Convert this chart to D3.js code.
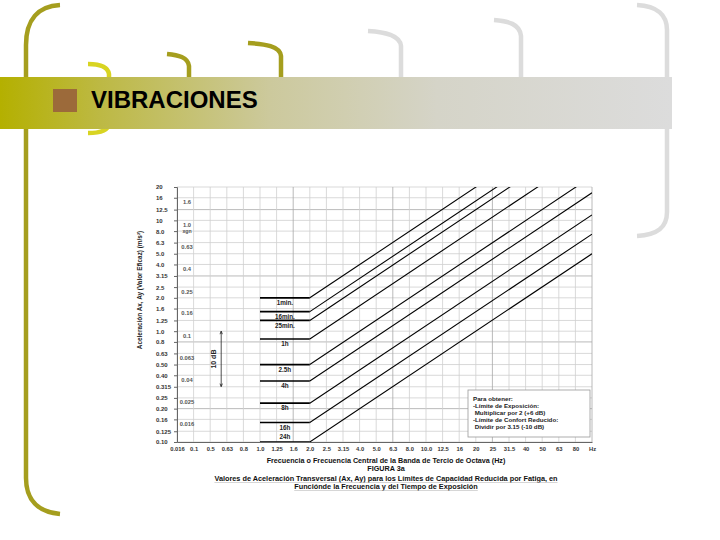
<!DOCTYPE html>
<html>
<head>
<meta charset="utf-8">
<script src="https://cdn.jsdelivr.net/npm/d3@7"></script>
<style>
  body { margin: 0; background: #fff; }
  text { font-family: "Liberation Sans", Arial, sans-serif; }
</style>
</head>
<body>
<div class="slide"></div>
<script>
// third-octave band labels along the bottom (last slot is the unit)
const xLabels = ["0.016","0.1","0.5","0.63","0.8","1.0","1.25","1.6","2.0","2.5","3.15","4.0","5.0","6.3",
                 "8.0","10.0","12.5","16","20","25","31.5","40","50","63","80","Hz"];
// acceleration ticks, m/s2
const yTickLabels = ["20","16","12.5","10","8.0","6.3","5.0","4.0","3.15","2.5","2.0","1.6","1.25","1.0",
                     "0.8","0.63","0.50","0.40","0.315","0.25","0.20","0.16","0.125","0.10"];
// same scale in g units
const gLabels = ["1.6","1.0","0.63","0.4","0.25","0.16","0.1","0.063","0.04","0.025","0.016"];
const gToMs2 = 9.81;

// exposure times and their curves: flat 1-2 Hz, then rising to the right edge
const exposure   = ["1min.","16min.","25min.","1h","2.5h","4h","8h","16h","24h"];
const flatLevel  = [2.0, 1.5, 1.25, 0.85, 0.5, 0.355, 0.224, 0.15, 0.1];
const edgeLevel  = [100, 75, 62.5, 42.5, 25, 17.75, 11.2, 7.5, 5.0];
const flatFrom = "1.0", knee = "2.0", edge = "Hz";

const legendLines = ["Para obtener:", "-Límite de Exposición:", " Multiplicar por 2 (+6 dB)",
                     "-Límite de Confort Reducido:", " Dividir por 3.15 (-10 dB)"];

const svg = d3.select(".slide").append("svg")
    .attr("width", 720).attr("height", 540);

// ---- slide decoration ----
const defs = svg.append("defs");
const grad = defs.append("linearGradient").attr("id", "bar");
[[0, "#b4b000"], [0.15, "#bdb944"], [0.4, "#ccc99c"], [0.65, "#d5d4c8"], [1, "#dcdcdc"]]
    .forEach(([o, c]) => grad.append("stop").attr("offset", o).attr("stop-color", c));

const brackets = [
    ["M60,5 C38,6 26,20 26,45 L26,478 C26,500 38,512 60,514", "#a59e1e"],
    ["M88,64 C100,64 108,67 109,74 L109,124 C108,131 100,133 88,133", "#d8d422"],
    ["M167,54 C178,55 188,57 189,66 L189,80", "#a59e1e"],
    ["M248,43 C265,44 280,46 281,56 L281,80", "#a59e1e"],
    ["M368,31 C385,32 400,35 401,46 L401,80", "#dcdcdc"],
    ["M494,20 C508,21 520,24 521,36 L521,80", "#dcdcdc"],
    ["M637,5 C657,6 667,15 667,30 L667,212 C667,228 657,235 637,236", "#dcdcdc"]
];
svg.append("g").selectAll("path").data(brackets).join("path")
    .attr("d", d => d[0]).attr("fill", "none")
    .attr("stroke", d => d[1]).attr("stroke-width", 4.5);

svg.append("rect").attr("x", 0).attr("y", 77).attr("width", 672).attr("height", 52)
    .attr("fill", "url(#bar)");
svg.append("rect").attr("x", 53).attr("y", 89).attr("width", 24).attr("height", 23)
    .attr("fill", "#9c6a3a");
svg.append("text").attr("x", 91).attr("y", 108)
    .attr("font-size", 24).attr("font-weight", "bold").attr("fill", "#000")
    .text("VIBRACIONES");

// ---- chart ----
const plotL = 177, plotR = 592, plotT = 187, plotB = 442;
const x = d3.scalePoint().domain(xLabels).range([plotL, plotR]);
const y = d3.scaleLog().domain([0.1, 20]).range([plotB, plotT]);
const yVals = yTickLabels.map(Number);

const chart = svg.append("g");

// grid
chart.append("g").selectAll("line").data(yVals).join("line")
    .attr("x1", plotL).attr("x2", plotR)
    .attr("y1", d => y(d)).attr("y2", d => y(d))
    .attr("stroke", d => [12.5, 3.15, 0.8, 0.2].includes(d) ? "#a8a8a8" : "#cfcfcf")
    .attr("stroke-width", 0.8);
chart.append("g").selectAll("line").data(xLabels).join("line")
    .attr("x1", d => x(d)).attr("x2", d => x(d))
    .attr("y1", plotT).attr("y2", plotB)
    .attr("stroke", (d, i) => (i % 6 === 1 && i > 1) ? "#a8a8a8" : "#cfcfcf")
    .attr("stroke-width", 0.8);

// axes
const yAxis = chart.append("g").attr("transform", `translate(${plotL},0)`)
    .call(d3.axisLeft(y).tickValues(yVals).tickFormat((d, i) => yTickLabels[i]).tickSize(3));
yAxis.select(".domain").attr("stroke", "#666");
yAxis.selectAll(".tick line").attr("stroke", "#666");
yAxis.selectAll("text").attr("text-anchor", "start").attr("x", -21)
    .attr("font-size", 6).attr("font-weight", "bold").attr("fill", "#333")
    .attr("font-family", "Liberation Sans, Arial, sans-serif");

const xAxis = chart.append("g").attr("transform", `translate(0,${plotB})`)
    .call(d3.axisBottom(x).tickSize(0).tickPadding(5));
xAxis.select(".domain").attr("stroke", "#666");
xAxis.selectAll("text").attr("font-size", 5.8).attr("font-weight", "bold").attr("fill", "#333")
    .attr("font-family", "Liberation Sans, Arial, sans-serif");

// g-unit column
chart.append("g").selectAll("text").data(gLabels).join("text")
    .attr("x", 187).attr("y", d => y(+d * gToMs2) + 5.5)
    .attr("text-anchor", "middle").attr("font-size", 5.8).attr("font-weight", "bold")
    .attr("fill", "#555").text(d => d);
chart.append("text").attr("x", 187).attr("y", y(gToMs2) + 12)
    .attr("text-anchor", "middle").attr("font-size", 5.2).attr("font-weight", "bold")
    .attr("fill", "#555").text("xgn");

// 10 dB marker
const dbX = x("0.5") + 11;
chart.append("line").attr("x1", dbX).attr("x2", dbX)
    .attr("y1", y(1.0)).attr("y2", y(0.316)).attr("stroke", "#222").attr("stroke-width", 0.8);
[[y(1.0), 3], [y(0.316), -3]].forEach(([yy, d]) => {
    chart.append("path").attr("d", `M${dbX - 1.2},${yy + d} L${dbX},${yy} L${dbX + 1.2},${yy + d}`)
        .attr("fill", "none").attr("stroke", "#222").attr("stroke-width", 0.8);
});
chart.append("text").attr("transform", `translate(${dbX - 5},${y(0.56)}) rotate(-90)`)
    .attr("text-anchor", "middle").attr("font-size", 7).attr("font-weight", "bold")
    .attr("fill", "#222").text("10 dB");

// curves
defs.append("clipPath").attr("id", "plot").append("rect")
    .attr("x", plotL).attr("y", plotT).attr("width", plotR - plotL).attr("height", plotB - plotT);
const line = d3.line().x(d => x(d[0])).y(d => y(d[1]));
const curves = exposure.map((name, i) => ({
    name,
    flat: [[flatFrom, flatLevel[i]], [knee, flatLevel[i]]],
    rise: [[knee, flatLevel[i]], [edge, edgeLevel[i]]]
}));
const cg = chart.append("g").attr("clip-path", "url(#plot)");
cg.selectAll(".flat").data(curves).join("path").attr("class", "flat")
    .attr("d", d => line(d.flat)).attr("fill", "none").attr("stroke", "#000").attr("stroke-width", 1.7);
cg.selectAll(".rise").data(curves).join("path").attr("class", "rise")
    .attr("d", d => line(d.rise)).attr("fill", "none").attr("stroke", "#000").attr("stroke-width", 1.1);

const midX = (x(flatFrom) + x(knee)) / 2;
chart.append("g").selectAll("text").data(curves).join("text")
    .attr("x", midX)
    .attr("y", (d, i) => i === curves.length - 1 ? y(flatLevel[i]) - 3 : y(flatLevel[i]) + 7.2)
    .attr("text-anchor", "middle").attr("font-size", 6.3).attr("font-weight", "bold")
    .attr("fill", "#222").text(d => d.name);

// note box
chart.append("rect").attr("x", 468).attr("y", 390).attr("width", 122).attr("height", 47)
    .attr("fill", "#fff").attr("stroke", "#999").attr("stroke-width", 0.8);
chart.append("g").selectAll("text").data(legendLines).join("text")
    .attr("x", 473).attr("y", (d, i) => 401 + i * 7)
    .attr("font-size", 6.2).attr("font-weight", "bold").attr("fill", "#222")
    .style("white-space", "pre").text(d => d);

// axis title
chart.append("text").attr("transform", "translate(142,290) rotate(-90)")
    .attr("text-anchor", "middle").attr("font-size", 6.4).attr("font-weight", "bold")
    .attr("fill", "#222").text("Aceleración Ax, Ay (Valor Eficaz) (m/s²)");

// captions
const captions = [
    ["Frecuencia o Frecuencia Central de la Banda de Tercio de Octava (Hz)", 462.5, 7.2],
    ["FIGURA 3a", 470.5, 7.2],
    ["Valores de Aceleración Transversal (Ax, Ay) para los Límites de Capacidad Reducida por Fatiga, en", 480.5, 7.3],
    ["Funciónde la Frecuencia y del Tiempo de Exposición", 488.5, 7.3]
];
const capG = chart.append("g");
capG.selectAll("text").data(captions).join("text")
    .attr("x", 386).attr("y", d => d[1]).attr("text-anchor", "middle")
    .attr("font-size", d => d[2]).attr("font-weight", "bold").attr("fill", "#111")
    .text(d => d[0]);
capG.selectAll("text").each(function (d, i) {
    if (i < 2) return;
    const b = this.getBBox();
    capG.append("line").attr("x1", b.x).attr("x2", b.x + b.width)
        .attr("y1", d[1] + 2).attr("y2", d[1] + 2).attr("stroke", "#bbb").attr("stroke-width", 0.6);
});
</script>
</body>
</html>
